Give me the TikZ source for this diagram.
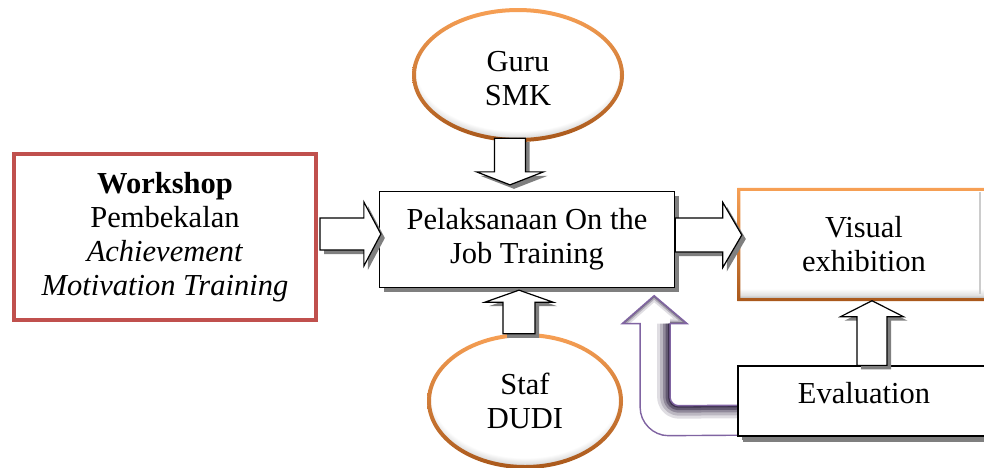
\documentclass[tikz,border=0pt]{standalone}
\usepackage{fontspec}
\setmainfont{Liberation Serif}
\usetikzlibrary{calc,shapes.geometric}

\definecolor{boxred}{HTML}{C0504D}
\definecolor{ringlight}{HTML}{F7A055}
\definecolor{ringdark}{HTML}{A9581B}
\definecolor{shadowgray}{HTML}{7F7F7F}
\definecolor{loopviolet}{HTML}{8064A2}
\definecolor{loopdark}{HTML}{2E2140}

% soft grey bevel inside the ovals, mostly along the bottom
\pgfdeclareradialshading{ovalbevel}{\pgfpoint{0bp}{6bp}}{%
  color(0bp)=(white); color(24.5bp)=(white); color(27bp)=(black!15);
  color(31bp)=(black!50); color(50bp)=(black!50)}
% panel with a grey lip along its bottom edge
\pgfdeclareverticalshading{panelbevel}{100bp}{%
  color(0bp)=(black!35); color(25bp)=(black!35); color(27bp)=(black!12);
  color(30bp)=(white); color(100bp)=(white)}

% block arrow from #1 (tail) to #2 (tip): shaft half-width #3,
% head half-width #4, head length #5
\newcommand\blockarrow[5]{%
  \coordinate (ba-base) at ($(#2)!#5!(#1)$);
  \fill[shadowgray, transform canvas={shift={(4pt,-4pt)}}]
    ($(#1)!#3!90:(#2)$) -- ($(ba-base)!#3!90:(#2)$) -- ($(ba-base)!#4!90:(#2)$)
    -- (#2) -- ($(ba-base)!#4!-90:(#2)$) -- ($(ba-base)!#3!-90:(#2)$)
    -- ($(#1)!#3!-90:(#2)$) -- cycle;
  \draw[fatarrow]
    ($(#1)!#3!90:(#2)$) -- ($(ba-base)!#3!90:(#2)$) -- ($(ba-base)!#4!90:(#2)$)
    -- (#2) -- ($(ba-base)!#4!-90:(#2)$) -- ($(ba-base)!#3!-90:(#2)$)
    -- ($(#1)!#3!-90:(#2)$) -- cycle;
}

\begin{document}
\begin{tikzpicture}[x=1pt, y=-1pt,
  every node/.style={font=\fontsize{30.5}{34}\selectfont, align=center, inner sep=0pt},
  fatarrow/.style={draw=black, fill=white, line width=1.2pt, line join=miter},
  redbox/.style={draw=boxred, line width=4pt, fill=white},
  plainbox/.style={draw=black, line width=1.3pt, fill=white,
    preaction={fill=shadowgray, transform canvas={shift={(4pt,-4pt)}}}},
  oval/.style={ellipse, minimum width=208, minimum height=130},
]
\useasboundingbox (0,0) rectangle (984,467);
\clip (0,0) rectangle (984,467);

% ---- boxes -------------------------------------------------------
\node[redbox, minimum width=302, minimum height=166] (workshop) at (165,237)
  {\textbf{Workshop}\\Pembekalan\\\textit{Achievement}\\\textit{Motivation Training}};

\node[plainbox, minimum width=295, minimum height=96] (job) at (527,239.5)
  {Pelaksanaan On the\\Job Training};

% Visual exhibition panel with shaded orange frame
\node[shade, shading=panelbevel, minimum width=250, minimum height=110] (visual) at (864,244.5)
  {Visual\\exhibition};
\shade[top color=ringlight, bottom color=ringdark, even odd rule]
  ($(visual.north west)+(-1.5,-1.5)$) rectangle ($(visual.south east)+(1.5,1.5)$)
  ($(visual.north west)+(1.5,1.5)$) rectangle ($(visual.south east)+(-1.5,-1.5)$);
\draw[black!20, line width=2.5pt] ($(visual.north east)+(-9,3)$) -- ($(visual.south east)+(-9,-6)$);

% ---- ovals -------------------------------------------------------
\node[oval] (guru) at (518,78.5) {};
\coordinate (guru-c) at ($(guru.center)+(0,-3.5)$);
\shade[shading=ovalbevel] (guru-c) ellipse [x radius=104pt, y radius=65pt];
\shade[top color=ringlight, bottom color=ringdark, even odd rule]
  (guru-c) ellipse [x radius=106pt, y radius=67pt]
  (guru-c) ellipse [x radius=102pt, y radius=63pt];
\node at (guru.center) {Guru\\SMK};

\node[oval, minimum width=194, minimum height=136] (dudi) at (525,401) {};
\shade[shading=ovalbevel] (dudi.center) ellipse [x radius=96pt, y radius=66pt];
\shade[top color=ringlight, bottom color=ringdark, even odd rule]
  (dudi.center) ellipse [x radius=98pt, y radius=68pt]
  (dudi.center) ellipse [x radius=94pt, y radius=64pt];
\node at (dudi.center) {Staf\\DUDI};

% ---- feedback loop from Evaluation back to the training ----------
\node[minimum width=252, minimum height=70] (evalpos) at (864,401) {};
\coordinate (u-tail) at ($(evalpos.south west)+(0,-16)$);
\coordinate (u-tip) at ($(job.south east)+(-21,7.5)$);
\begin{scope}[shift={(u-tip)}]
  \path[fill=white] (0,0) -- (33,28) -- (16,28) -- (16,102)
    .. controls (16,106) and (20,110) .. (24,110) -- ($(u-tail)+(2,-15)$)
    -- ($(u-tail)+(2,15)$) -- (14,140)
    .. controls (-1,140) and (-14,127) .. (-14,112) -- (-14,28) -- (-32,28) -- cycle;
  \begin{scope}
    \clip (0,0) -- (33,28) -- (16,28) -- (16,102)
      .. controls (16,106) and (20,110) .. (24,110) -- ($(u-tail)+(2,-15)$)
      -- ($(u-tail)+(2,15)$) -- (14,140)
      .. controls (-1,140) and (-14,127) .. (-14,112) -- (-14,28) -- (-32,28) -- cycle;
    \foreach \w/\o in {26/0.15, 20/0.2, 14/0.3, 9/0.45, 4/0.7}
      \draw[loopdark, line width=\w pt, opacity=\o, line join=round]
        ($(u-tail)+(4,-15)$) -- (24,110) .. controls (20,110) and (16,106) .. (16,102)
        -- (16,28);
    \foreach \w/\o in {10/0.15, 6/0.25, 3/0.4}
      \draw[loopdark, line width=\w pt, opacity=\o, line join=round]
        (16,28) -- (33,28) -- (0,0) -- (-32,28);
  \end{scope}
  \draw[loopviolet, line width=1.4pt, line join=miter] ($(u-tail)+(2,-15)$) -- (24,110)
    .. controls (20,110) and (16,106) .. (16,102) -- (16,28) -- (33,28) -- (0,0)
    -- (-32,28) -- (-14,28) -- (-14,112)
    .. controls (-14,127) and (-1,140) .. (14,140) -- ($(u-tail)+(2,15)$);
\end{scope}

\node[plainbox, minimum width=252, minimum height=70, text height=20pt, text depth=16pt,
  preaction={fill=shadowgray, transform canvas={shift={(5pt,-6pt)}}}] (eval) at (864,401)
  {Evaluation};

% ---- block arrows ------------------------------------------------
\coordinate (w-tail) at ($(workshop.east)+(2,-3)$);
\coordinate (w-tip) at ($(w-tail -| job.west)+(2,0)$);
\blockarrow{w-tail}{w-tip}{16pt}{32pt}{17pt}

\coordinate (j-tail) at ($(job.east)+(0,-4.5)$);
\coordinate (j-tip) at ($(j-tail -| visual.west)+(3,0)$);
\blockarrow{j-tail}{j-tip}{17pt}{32.5pt}{19pt}

\coordinate (g-tail) at ($(guru.south)+(-8,-5.5)$);
\coordinate (g-tip) at ($(g-tail |- job.north)+(0,-6)$);
\blockarrow{g-tail}{g-tip}{15.5pt}{33.5pt}{13pt}

\coordinate (d-tail) at ($(dudi.north)+(-6,1)$);
\coordinate (d-tip) at ($(d-tail |- job.south)+(0,2)$);
\blockarrow{d-tail}{d-tip}{16pt}{34pt}{12pt}

\coordinate (e-tail) at ($(eval.north)+(8,0)$);
\coordinate (e-tip) at ($(e-tail |- visual.south)+(0,1)$);
\blockarrow{e-tail}{e-tip}{15pt}{31.5pt}{16pt}
\end{tikzpicture}
\end{document}
